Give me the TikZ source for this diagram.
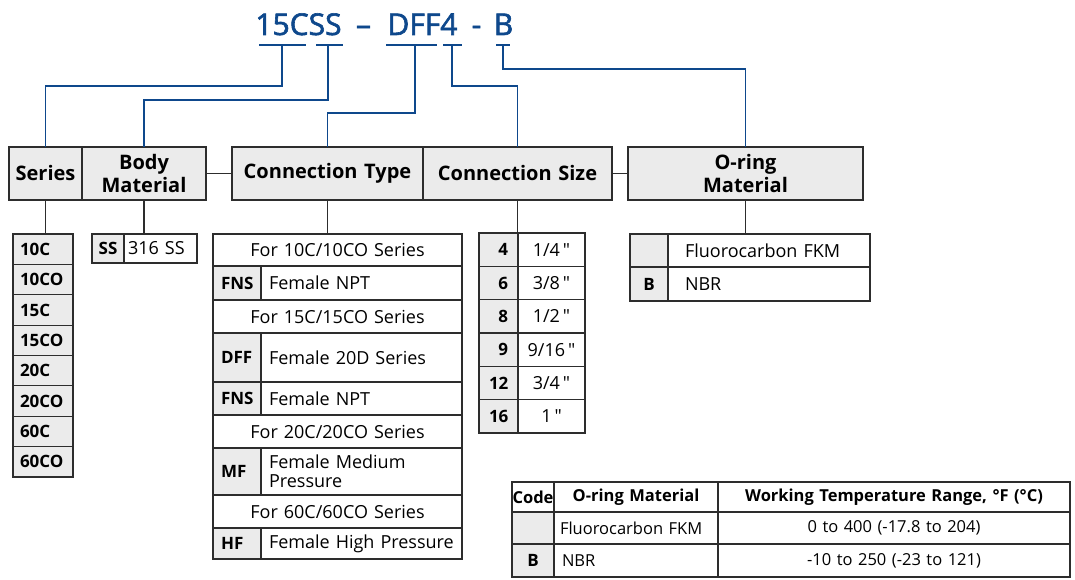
\documentclass[tikz,border=0pt]{standalone}
\usepackage{fontspec}
\setmainfont{Open Sans}
\newfontfamily\titlefont[FakeBold=2]{Open Sans}
\definecolor{pnblue}{RGB}{14,72,140}
\definecolor{lineg}{RGB}{45,45,45}
\definecolor{cellg}{RGB}{235,235,235}
\newcommand\inch{\,\XeTeXglyph\XeTeXglyphindex "quotedbl"\relax}
\NewDocumentCommand\mycell{O{}mmmmmmm}{%
  \pgfmathsetlengthmacro\mycw{((#5)-(#3))*1pt}%
  \pgfmathsetlengthmacro\mych{((#6)-(#4))*1pt}%
  \pgfmathsetlengthmacro\mytw{((#5)-(#3)-2*(#7))*1pt}%
  \node[cellbase,minimum width=\mycw,minimum height=\mych,inner xsep=#7pt,text width=\mytw,#1]
    (#2) at ({((#3)+(#5))/2},{((#4)+(#6))/2}) {#8};}
\tikzset{
  cellbase/.style={draw=lineg,line width=1.2pt,inner ysep=0pt,outer sep=0pt,align=left,
    font=\fontsize{18}{19}\selectfont,text=black},
  hdr/.style={fill=cellg,align=center,font=\bfseries\fontsize{20}{23}\selectfont},
  codecell/.style={fill=cellg,font=\bfseries\fontsize{17}{19}\selectfont},
  ctr/.style={align=center},
  rgt/.style={align=right},
  tbhead/.style={align=center,font=\bfseries\fontsize{16.5}{19}\selectfont},
  tbbody/.style={font=\fontsize{16.5}{19}\selectfont},
  title/.style={text=pnblue,font=\titlefont\fontsize{30}{30}\selectfont,anchor=base,inner sep=0pt},
  bl/.style={draw=pnblue,line width=1.7pt},
  kl/.style={draw=lineg,line width=1.2pt},
}
\begin{document}
\begin{tikzpicture}[x=1pt,y=-1pt]
\useasboundingbox (0,0) rectangle (1075,580);
% title
\node[title] (t1) at (298.5,35) {15CSS};
\node[title] (t2) at (363.5,35) {–};
\node[title] (t3) at (422.5,35) {DFF4};
\node[title] (t4) at (476.5,35) {-};
\node[title] (t5) at (503.5,35) {B};
\coordinate (u1a) at (259,45); \coordinate (u1b) at (306,45);
\coordinate (u2a) at (316,45); \coordinate (u2b) at (343,45);
\coordinate (u3a) at (386,45); \coordinate (u3b) at (437,45);
\coordinate (u4a) at (443,45); \coordinate (u4b) at (462,45);
\coordinate (u5a) at (496,45); \coordinate (u5b) at (510,45);
\coordinate (d1) at (282,45); \coordinate (d2) at (328,45);
\coordinate (d3) at (415,45); \coordinate (d4) at (452,45);
\coordinate (d5) at (503,45);
\coordinate (lv1) at (0,86); \coordinate (lv2) at (0,100);
\coordinate (lv3) at (0,113); \coordinate (lv5) at (0,69);
% headers
\mycell[hdr]{ser}{9}{147}{82}{200}{0}{Series}
\mycell[hdr]{bm}{82}{147}{206}{200}{0}{Body\\Material}
\mycell[hdr]{ct}{232}{147}{423}{200}{0}{Connection Type}
\mycell[hdr]{cs}{423}{147}{612}{200}{0}{Connection Size}
\mycell[hdr]{om}{628}{147}{863}{200}{0}{O-ring\\Material}
% blue connectors
\foreach \a in {1,...,5}{\draw[bl] (u\a a) -- (u\a b);}
\draw[bl] (d1) -- (d1 |- lv1) -| (ser.north);
\draw[bl] (d2) -- (d2 |- lv2) -| (bm.north);
\draw[bl] (d3) -- (d3 |- lv3) -| (ct.north);
\draw[bl] (d4) -- (d4 |- lv1) -| (cs.north);
\draw[bl] (d5) -- (d5 |- lv5) -| (om.north);
\draw[kl] (bm.east) -- (ct.west);
\draw[kl] (cs.east) -- (om.west);
% series list
\foreach \t [count=\i from 0] in {10C,10CO,15C,15CO,20C,20CO,60C,60CO}{
  \mycell[codecell]{sl\i}{13}{234+\i*30.375}{73}{264.375+\i*30.375}{7}{\t}
}
% body material
\mycell[codecell,ctr]{ssc}{92}{234}{124}{263}{0}{SS}
\mycell{ssv}{124}{234}{197}{263}{4}{316 SS}
% connection type
\mycell[ctr]{r1}{213}{234}{462}{266}{0}{For 10C/10CO Series}
\mycell[codecell]{r2c}{213}{266}{261}{300}{8}{FNS}
\mycell{r2v}{261}{266}{462}{300}{8}{Female NPT}
\mycell[ctr]{r3}{213}{300}{462}{333}{0}{For 15C/15CO Series}
\mycell[codecell]{r4c}{213}{333}{261}{382}{8}{DFF}
\mycell{r4v}{261}{333}{462}{382}{8}{Female 20D Series}
\mycell[codecell]{r5c}{213}{382}{261}{415}{8}{FNS}
\mycell{r5v}{261}{382}{462}{415}{8}{Female NPT}
\mycell[ctr]{r6}{213}{415}{462}{448}{0}{For 20C/20CO Series}
\mycell[codecell]{r7c}{213}{448}{261}{495}{8}{MF}
\mycell{r7v}{261}{448}{462}{495}{8}{Female Medium\\Pressure}
\mycell[ctr]{r8}{213}{495}{462}{528}{0}{For 60C/60CO Series}
\mycell[codecell]{r9c}{213}{528}{261}{559}{8}{HF}
\mycell{r9v}{261}{528}{462}{559}{8}{Female High Pressure}
% connection size
\foreach \c [count=\i from 0] in {4,6,8,9,12,16}{
  \mycell[codecell,rgt]{z\i c}{479}{233+\i*33.333}{518}{266.333+\i*33.333}{10}{\c}
}
\mycell[ctr]{z0v}{518}{233}{585}{266.333}{0}{1/4\inch}
\mycell[ctr]{z1v}{518}{266.333}{585}{299.667}{0}{3/8\inch}
\mycell[ctr]{z2v}{518}{299.667}{585}{333}{0}{1/2\inch}
\mycell[ctr]{z3v}{518}{333}{585}{366.333}{0}{9/16\inch}
\mycell[ctr]{z4v}{518}{366.333}{585}{399.667}{0}{3/4\inch}
\mycell[ctr]{z5v}{518}{399.667}{585}{433}{0}{1\inch}
% o-ring
\mycell[codecell]{o1c}{630}{234}{668}{267}{0}{}
\mycell{o1v}{668}{234}{870}{267}{17}{Fluorocarbon FKM}
\mycell[codecell,ctr]{o2c}{630}{267}{668}{301}{0}{B}
\mycell{o2v}{668}{267}{870}{301}{17}{NBR}
% black drop lines
\draw[kl] (ser.south) -- (ser.south |- sl0.north);
\draw[kl] (bm.south) -- (bm.south |- ssc.north);
\draw[kl] (ct.south) -- (ct.south |- r1.north);
\draw[kl] (cs.south) -- (cs.south |- z0c.north);
\draw[kl] (om.south) -- (om.south |- o1c.north);
% bottom table
\mycell[tbhead]{h1}{512}{482}{554}{512}{0}{Code}
\mycell[tbhead]{h2}{554}{482}{718}{512}{0}{O-ring Material}
\mycell[tbhead]{h3}{718}{482}{1070}{512}{0}{Working Temperature Range, °F (°C)}
\mycell[codecell]{b1c}{512}{512}{554}{544}{0}{}
\mycell[tbbody]{b1m}{554}{512}{718}{544}{6}{Fluorocarbon FKM}
\mycell[tbbody,ctr]{b1t}{718}{512}{1070}{544}{0}{0 to 400 (-17.8 to 204)}
\mycell[codecell,ctr]{b2c}{512}{544}{554}{577}{0}{B}
\mycell[tbbody]{b2m}{554}{544}{718}{577}{8}{NBR}
\mycell[tbbody,ctr]{b2t}{718}{544}{1070}{577}{0}{-10 to 250 (-23 to 121)}
\end{tikzpicture}
\end{document}
